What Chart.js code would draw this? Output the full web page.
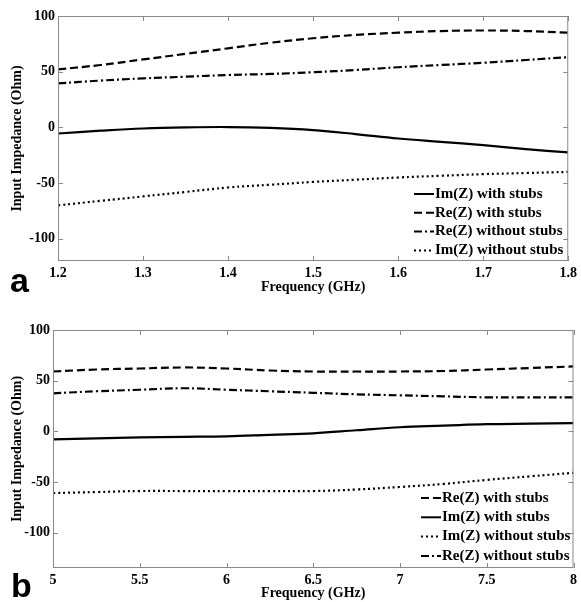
<!DOCTYPE html>
<html>
<head>
<meta charset="utf-8">
<script src="https://cdn.jsdelivr.net/npm/chart.js@4"></script>
<style>
  body { margin: 0; background: #fff; width: 581px; height: 602px; overflow: hidden; }
  .box { position: absolute; left: 0; width: 581px; }
</style>
</head>
<body>
<div class="box" style="top:0;height:300px"><canvas id="chartA" width="581" height="300"></canvas></div>
<div class="box" style="top:300px;height:302px"><canvas id="chartB" width="581" height="302"></canvas></div>
<script>
// panel a: 1.2 - 1.8 GHz
const freqA = [1.2, 1.25, 1.3, 1.35, 1.4, 1.45, 1.5, 1.55, 1.6, 1.65, 1.7, 1.75, 1.8];
const reWithA = [52, 56, 61, 66, 71, 76, 80, 83, 85, 86.5, 87, 86.5, 85];
const reWithoutA = [39.5, 42, 44, 45.5, 47, 48, 49.5, 51.5, 54, 56, 58, 60.5, 63];
const imWithA = [-5.5, -3, -1, 0, 0.3, -0.5, -2.5, -6, -10, -13, -16, -19.5, -22.5];
const imWithoutA = [-70, -66, -62, -58, -54, -51.5, -49, -47, -45, -43.5, -42, -41, -40];
const xTicksA = [1.2, 1.3, 1.4, 1.5, 1.6, 1.7, 1.8];
const yTicksA = [-100, -50, 0, 50, 100];

// panel b: 5 - 8 GHz
const freqB = [5, 5.25, 5.5, 5.75, 6, 6.25, 6.5, 6.75, 7, 7.25, 7.5, 7.75, 8];
const reWithB = [59, 61, 62, 63, 62, 60, 59, 59, 59, 59.5, 61, 62.5, 64];
const reWithoutB = [37.5, 39.5, 41, 42.5, 41, 39.5, 38, 36.5, 35.5, 34.5, 33.5, 33.5, 33.5];
const imWithB = [-8, -7, -6, -5.5, -5, -3.5, -2, 1, 4, 5.5, 7, 7.5, 8];
const imWithoutB = [-61, -60, -59, -59, -59, -59, -59, -57.5, -55, -52, -48, -44.5, -41];
const xTicksB = [5, 5.5, 6, 6.5, 7, 7.5, 8];
const yTicksB = [-100, -50, 0, 50, 100];

const serif = "'Liberation Serif', 'Times New Roman', serif";
const styles = {
  imWith: [],
  reWith: [8, 4],
  reWithout: [8, 3, 2, 3],
  imWithout: [2, 3]
};

function series(xs, ys) {
  return xs.map((x, i) => ({ x: x, y: ys[i] }));
}

function ds(label, xs, ys, key) {
  return {
    label: label,
    data: series(xs, ys),
    borderColor: '#000',
    borderWidth: 2.2,
    borderDash: styles[key],
    pointRadius: 0,
    tension: 0.4,
    fill: false,
    styleKey: key
  };
}

// frame, inward ticks, in-plot legend and panel letter
const decor = {
  id: 'decor',
  afterDraw(chart, args, opts) {
    const c = chart.ctx;
    const a = chart.chartArea;
    const xs = chart.scales.x, ys = chart.scales.y;
    c.save();
    c.strokeStyle = '#8a8a8a';
    c.lineWidth = 1;
    c.setLineDash([]);
    c.strokeRect(a.left + 0.5, a.top + 0.5, a.right - a.left - 1, a.bottom - a.top - 1);
    c.beginPath();
    xs.ticks.forEach(t => {
      const px = Math.round(xs.getPixelForValue(t.value)) + 0.5;
      c.moveTo(px, a.top); c.lineTo(px, a.top + 5);
      c.moveTo(px, a.bottom); c.lineTo(px, a.bottom - 5);
    });
    ys.ticks.forEach(t => {
      const py = Math.round(ys.getPixelForValue(t.value)) + 0.5;
      c.moveTo(a.left, py); c.lineTo(a.left + 5, py);
      c.moveTo(a.right, py); c.lineTo(a.right - 5, py);
    });
    c.stroke();

    // legend
    c.font = 'bold 15px ' + serif;
    c.textBaseline = 'middle';
    c.fillStyle = '#000';
    c.strokeStyle = '#000';
    c.lineWidth = 2;
    opts.order.forEach((idx, i) => {
      const d = chart.data.datasets[idx];
      const y = opts.y + i * opts.rowH;
      c.setLineDash(styles[d.styleKey]);
      c.beginPath();
      c.moveTo(opts.x - 20, y);
      c.lineTo(opts.x, y);
      c.stroke();
      c.fillText(d.label, opts.x + 1, y);
    });

    c.setLineDash([]);
    c.font = 'bold 34px "Liberation Sans", Arial, sans-serif';
    c.textBaseline = 'alphabetic';
    c.fillText(opts.letter, opts.lx, opts.ly);
    c.restore();
  }
};

function makeChart(id, cfg) {
  return new Chart(document.getElementById(id), {
    type: 'line',
    data: { datasets: cfg.datasets },
    options: {
      responsive: false,
      animation: false,
      layout: { padding: { top: cfg.top, right: cfg.right, left: 0, bottom: 0 } },
      plugins: {
        legend: { display: false },
        tooltip: { enabled: false },
        decor: cfg.decor
      },
      scales: {
        x: {
          type: 'linear',
          min: cfg.xMin,
          max: cfg.xMax,
          afterBuildTicks: s => { s.ticks = cfg.xTicks.map(v => ({ value: v })); },
          afterFit: s => { s.height = cfg.xH; },
          grid: { display: false, drawTicks: false, tickLength: 0 },
          border: { display: false },
          ticks: {
            color: '#000',
            padding: 4,
            maxRotation: 0,
            font: { family: serif, size: 14, weight: 'bold' },
            callback: v => (v % 1 === 0 ? String(v) : v.toFixed(1))
          },
          title: {
            display: true,
            text: 'Frequency (GHz)',
            color: '#000',
            padding: { top: 0, bottom: cfg.titlePad },
            font: { family: serif, size: 14, weight: 'bold' }
          }
        },
        y: {
          min: cfg.yMin,
          max: 100,
          afterBuildTicks: s => { s.ticks = cfg.yTicks.map(v => ({ value: v })); },
          afterFit: s => { s.width = cfg.yW; },
          grid: { display: false, drawTicks: false, tickLength: 0 },
          border: { display: false },
          ticks: {
            color: '#000',
            padding: 3,
            font: { family: serif, size: 14, weight: 'bold' }
          },
          title: {
            display: true,
            text: 'Input Impedance (Ohm)',
            color: '#000',
            padding: { top: 9, bottom: 0 },
            font: { family: serif, size: 14, weight: 'bold' }
          }
        }
      }
    },
    plugins: [decor]
  });
}

makeChart('chartA', {
  datasets: [
    ds('Im(Z) with stubs', freqA, imWithA, 'imWith'),
    ds('Re(Z) with stubs', freqA, reWithA, 'reWith'),
    ds('Re(Z) without stubs', freqA, reWithoutA, 'reWithout'),
    ds('Im(Z) without stubs', freqA, imWithoutA, 'imWithout')
  ],
  xMin: 1.2, xMax: 1.8, yMin: -120,
  xTicks: xTicksA, yTicks: yTicksA,
  top: 16, right: 11, xH: 39, yW: 58, titlePad: 4,
  decor: { order: [0, 1, 2, 3], x: 434, y: 194, rowH: 18.8, letter: 'a', lx: 10, ly: 292 }
});

makeChart('chartB', {
  datasets: [
    ds('Re(Z) with stubs', freqB, reWithB, 'reWith'),
    ds('Im(Z) with stubs', freqB, imWithB, 'imWith'),
    ds('Im(Z) without stubs', freqB, imWithoutB, 'imWithout'),
    ds('Re(Z) without stubs', freqB, reWithoutB, 'reWithout')
  ],
  xMin: 5, xMax: 8, yMin: -135,
  xTicks: xTicksB, yTicks: yTicksB,
  top: 30, right: 6, xH: 34, yW: 53, titlePad: 0,
  decor: { order: [0, 1, 2, 3], x: 441, y: 198, rowH: 19.3, letter: 'b', lx: 11, ly: 297 }
});
</script>
</body>
</html>
